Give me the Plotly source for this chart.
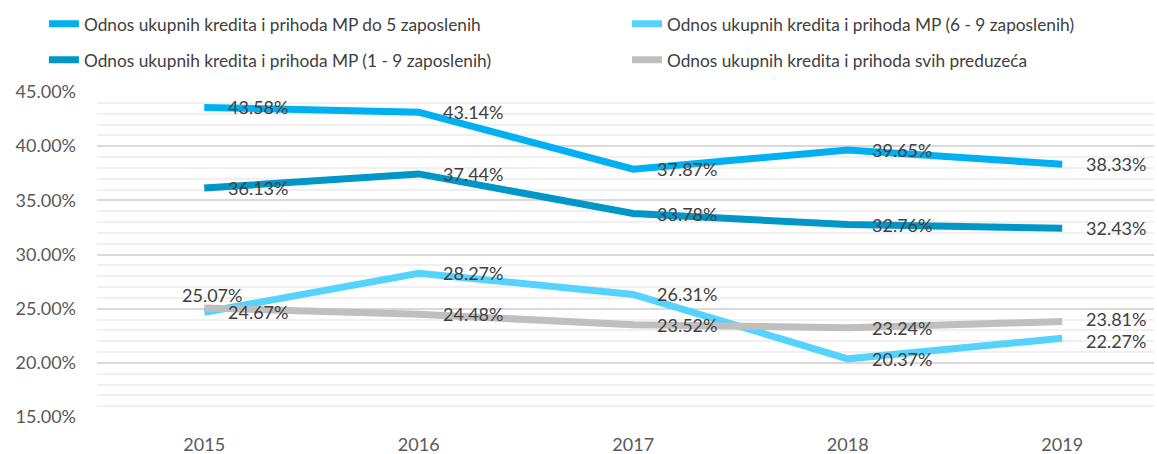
import plotly.graph_objects as go

years = ["2015", "2016", "2017", "2018", "2019"]
names = [
    "Odnos ukupnih kredita i prihoda MP do 5 zaposlenih",
    "Odnos ukupnih kredita i prihoda MP (6 - 9 zaposlenih)",
    "Odnos ukupnih kredita i prihoda MP (1 - 9 zaposlenih)",
    "Odnos ukupnih kredita i prihoda svih preduzeća",
]
do5 = [0.4358, 0.4314, 0.3787, 0.3965, 0.3833]
mp69 = [0.2467, 0.2827, 0.2631, 0.2037, 0.2227]
mp19 = [0.3613, 0.3744, 0.3378, 0.3276, 0.3243]
svih = [0.2507, 0.2448, 0.2352, 0.2324, 0.2381]

series = [do5, mp69, mp19, svih]
colors = ["#00B0F0", "#55D3FD", "#0096C8", "#BFBFBF"]
legends = ["legend", "legend2", "legend3", "legend4"]
FONT = "Lato"

fig = go.Figure()
for i in [0, 1, 2, 3]:
    fig.add_trace(go.Scatter(
        x=years, y=series[i], name=names[i], mode="lines",
        line=dict(color=colors[i], width=7),
        legend=legends[i],
    ))

for i, s in enumerate(series):
    for j, v in enumerate(s):
        xs, ys, xa = 22, 0, "left"
        if i == 3 and j == 0:
            xs, ys, xa = 8, 13, "center"
        if i == 3 and j == 4:
            ys = 3
        if i == 1 and j == 4:
            ys = -3
        fig.add_annotation(
            x=j, y=v, xref="x", yref="y", text=f"{v*100:.2f}%",
            showarrow=False, xanchor=xa, yanchor="middle", xshift=xs, yshift=ys,
            font=dict(family=FONT, size=18, color="#404040"),
        )

leg_common = dict(orientation="h", xref="paper", yref="container",
                  xanchor="left", yanchor="middle",
                  font=dict(family=FONT, size=17.3, color="#404040"),
                  bgcolor="rgba(0,0,0,0)")
lx = [-0.0502, 0.5014, -0.0502, 0.5014]
ly = [0.9471, 0.9471, 0.8678, 0.8678]

fig.update_layout(
    width=1157, height=454,
    margin=dict(l=97, r=3, t=92, b=37, autoexpand=False),
    paper_bgcolor="white", plot_bgcolor="white",
    font=dict(family=FONT, color="#595959"),
    showlegend=True,
    legend=dict(x=lx[0], y=ly[0], **leg_common),
    legend2=dict(x=lx[1], y=ly[1], **leg_common),
    legend3=dict(x=lx[2], y=ly[2], **leg_common),
    legend4=dict(x=lx[3], y=ly[3], **leg_common),
    xaxis=dict(type="category", range=[-0.5, 4.428], showgrid=False, showline=False, ticks="",
               ticklabelstandoff=15,
               tickfont=dict(family=FONT, size=18, color="#595959")),
    yaxis=dict(range=[0.15, 0.45], dtick=0.05, tickformat=".2%", showline=False,
               gridcolor="#D9D9D9", gridwidth=2, zeroline=False, ticklabelstandoff=20,
               tickfont=dict(family=FONT, size=18, color="#595959"),
               minor=dict(dtick=0.01, showgrid=True, gridcolor="#F0F0F0", gridwidth=2)),
)

fig.write_html("out.html", config={"displayModeBar": False},
               post_script="document.body.style.margin='0';document.body.style.overflow='hidden';")
